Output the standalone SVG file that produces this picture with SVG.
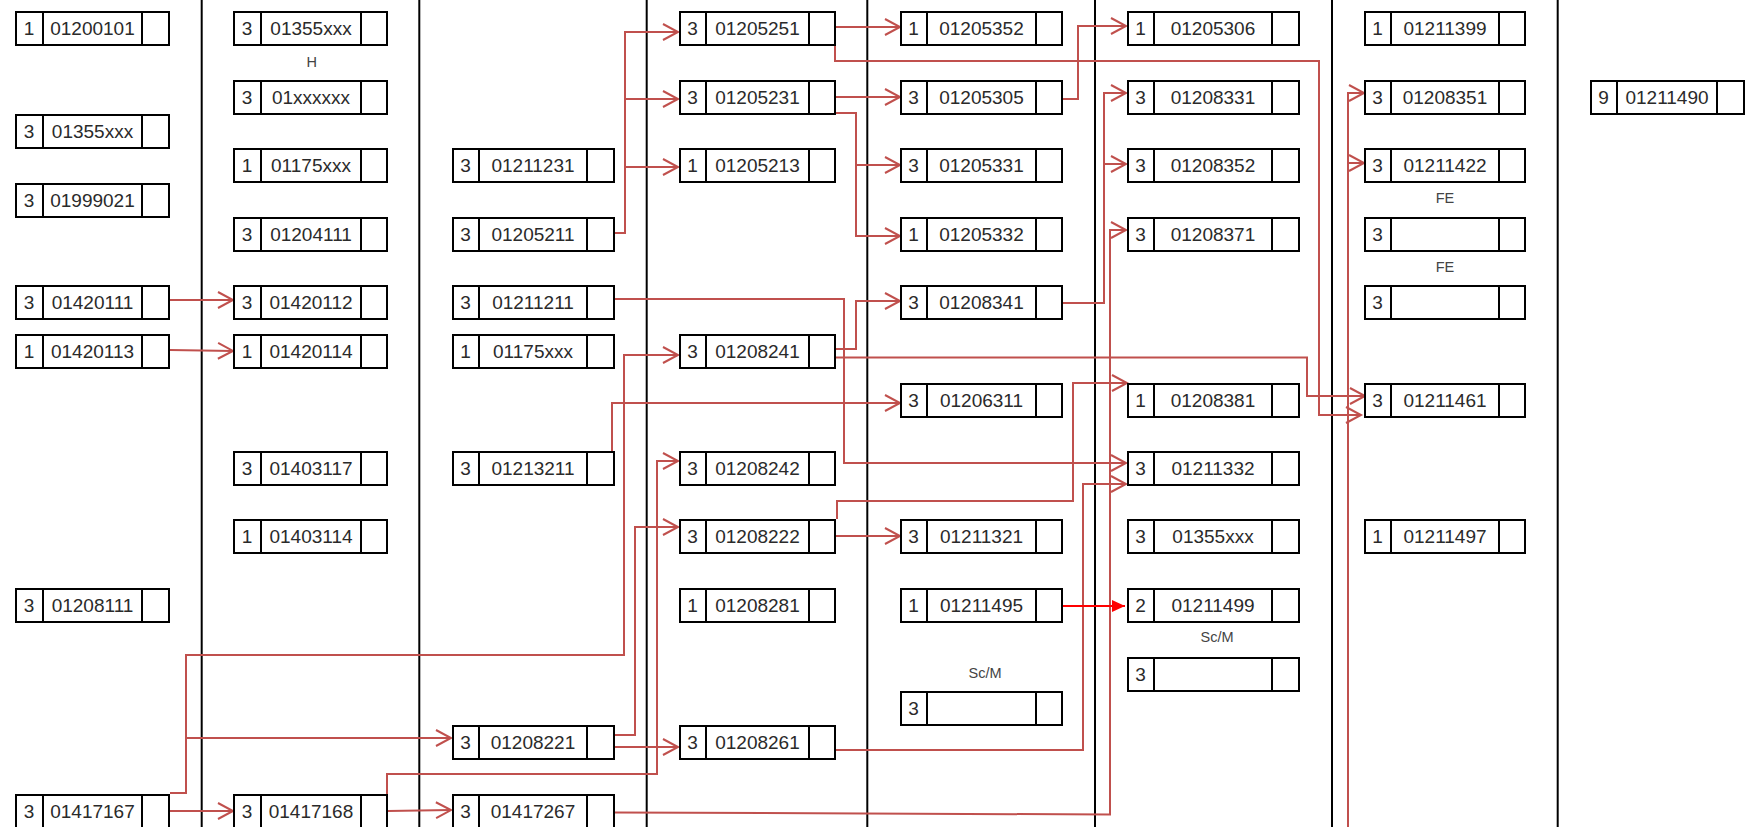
<svg xmlns="http://www.w3.org/2000/svg" xmlns:xlink="http://www.w3.org/1999/xlink" width="1752" height="827" viewBox="0 0 1752 827">
<style>
.fr rect{fill:#fff;stroke:#000;stroke-width:2}
.fr line{stroke:#000;stroke-width:2}
.n text{font-family:"Liberation Sans",Arial,sans-serif;font-size:19px;fill:#2a2a2a;text-anchor:middle}
.lbl text{font-family:"Liberation Sans",Arial,sans-serif;font-size:14.5px;fill:#444;text-anchor:middle}
.sep line{stroke:#000;stroke-width:2}
.c path{fill:none;stroke:#c0504d;stroke-width:2}
.c path.hot{stroke:#ff0000}
</style>
<defs>
<marker id="arr" markerUnits="userSpaceOnUse" viewBox="0 0 20 20" markerWidth="20" markerHeight="20" refX="16" refY="10" orient="auto"><path d="M1,2 L16,10 L1,18" fill="none" stroke="#c0504d" stroke-width="2"/></marker>
<marker id="tri" markerUnits="userSpaceOnUse" viewBox="0 0 14 12" markerWidth="14" markerHeight="12" refX="13" refY="6" orient="auto"><path d="M0,0 L13,6 L0,12 z" fill="#ff0000"/></marker>
<g id="f1" class="fr"><rect x="1" y="1" width="153" height="33"/><line x1="28" y1="1" x2="28" y2="34"/><line x1="127" y1="1" x2="127" y2="34"/></g>
<g id="f2" class="fr"><rect x="1" y="1" width="153" height="33"/><line x1="28" y1="1" x2="28" y2="34"/><line x1="128" y1="1" x2="128" y2="34"/></g>
<g id="f3" class="fr"><rect x="1" y="1" width="161" height="33"/><line x1="27" y1="1" x2="27" y2="34"/><line x1="135" y1="1" x2="135" y2="34"/></g>
<g id="f4" class="fr"><rect x="1" y="1" width="155" height="33"/><line x1="27" y1="1" x2="27" y2="34"/><line x1="130" y1="1" x2="130" y2="34"/></g>
<g id="f5" class="fr"><rect x="1" y="1" width="161" height="33"/><line x1="27" y1="1" x2="27" y2="34"/><line x1="136" y1="1" x2="136" y2="34"/></g>
<g id="f6" class="fr"><rect x="1" y="1" width="171" height="33"/><line x1="27" y1="1" x2="27" y2="34"/><line x1="145" y1="1" x2="145" y2="34"/></g>
<g id="f7" class="fr"><rect x="1" y="1" width="160" height="33"/><line x1="27" y1="1" x2="27" y2="34"/><line x1="135" y1="1" x2="135" y2="34"/></g>
<g id="f8" class="fr"><rect x="1" y="1" width="153" height="33"/><line x1="27" y1="1" x2="27" y2="34"/><line x1="127" y1="1" x2="127" y2="34"/></g>
</defs>
<rect width="1752" height="827" fill="#fff"/>
<g id="separators" class="sep">
<line x1="201.7" y1="0" x2="201.7" y2="827"/>
<line x1="419.3" y1="0" x2="419.3" y2="827"/>
<line x1="646.7" y1="0" x2="646.7" y2="827"/>
<line x1="867.3" y1="0" x2="867.3" y2="827"/>
<line x1="1095" y1="0" x2="1095" y2="827"/>
<line x1="1332" y1="0" x2="1332" y2="827"/>
<line x1="1557.7" y1="0" x2="1557.7" y2="827"/>
</g>
<g id="connectors" class="c">
<path marker-end="url(#arr)" d="M170,300 H233"/>
<path marker-end="url(#arr)" d="M170,350 L233,351"/>
<path marker-end="url(#arr)" d="M615,233 H625 V32 H678"/>
<path marker-end="url(#arr)" d="M625,99 H678"/>
<path marker-end="url(#arr)" d="M625,167 H678"/>
<path marker-end="url(#arr)" d="M836,27 H900"/>
<path marker-end="url(#arr)" d="M835,46 V61 H1319 V415 H1361"/>
<path marker-end="url(#arr)" d="M836,97 H900"/>
<path marker-end="url(#arr)" d="M836,113 H856 V236 H900"/>
<path marker-end="url(#arr)" d="M856,165 H900"/>
<path marker-end="url(#arr)" d="M1063,99 H1078 V26 H1126"/>
<path marker-end="url(#arr)" d="M1063,303 H1104 V93 H1126"/>
<path marker-end="url(#arr)" d="M1104,164 H1126"/>
<path marker-end="url(#arr)" d="M615,812.5 L1110,814.5 V230 H1126"/>
<path marker-end="url(#arr)" d="M615,299 H844 V463 H1126"/>
<path marker-end="url(#arr)" d="M836,349 H856 V301 H900"/>
<path marker-end="url(#arr)" d="M836,357.5 H1307 V396 H1365"/>
<path marker-end="url(#arr)" d="M612,451 V403 H900"/>
<path marker-end="url(#arr)" d="M170,793 H186 V655 H624 V355 H678"/>
<path marker-end="url(#arr)" d="M186,738 H451"/>
<path marker-end="url(#arr)" d="M170,811 H233"/>
<path marker-end="url(#arr)" d="M388,811 L451,810"/>
<path marker-end="url(#arr)" d="M387,794 V774 H657 V461 H678"/>
<path marker-end="url(#arr)" d="M615,735 H635 V527 H678"/>
<path marker-end="url(#arr)" d="M615,747 H678"/>
<path marker-end="url(#arr)" d="M836,750 H1083 V484 H1126"/>
<path marker-end="url(#arr)" d="M837,519 V501 H1073 V383 H1127"/>
<path marker-end="url(#arr)" d="M836,536 H900"/>
<path marker-end="url(#arr)" d="M1348,827 V93 H1364"/>
<path marker-end="url(#arr)" d="M1348,163 H1364"/>
<path class="hot" marker-end="url(#tri)" d="M1063,606 H1125"/>
</g>
<g id="labels" class="lbl">
<text x="311.7" y="66.5">H</text>
<text x="1445" y="203">FE</text>
<text x="1445" y="272">FE</text>
<text x="985" y="678">Sc/M</text>
<text x="1217" y="642">Sc/M</text>
</g>
<g id="nodes">
<g id="n-c1-01200101" class="n" transform="translate(15,11)"><use href="#f1"/><text x="14" y="23.5">1</text><text x="77.5" y="23.5">01200101</text></g>
<g id="n-c1-01355xxx" class="n" transform="translate(15,114)"><use href="#f1"/><text x="14" y="23.5">3</text><text x="77.5" y="23.5">01355xxx</text></g>
<g id="n-c1-01999021" class="n" transform="translate(15,183)"><use href="#f1"/><text x="14" y="23.5">3</text><text x="77.5" y="23.5">01999021</text></g>
<g id="n-c1-01420111" class="n" transform="translate(15,285)"><use href="#f1"/><text x="14" y="23.5">3</text><text x="77.5" y="23.5">01420111</text></g>
<g id="n-c1-01420113" class="n" transform="translate(15,334)"><use href="#f1"/><text x="14" y="23.5">1</text><text x="77.5" y="23.5">01420113</text></g>
<g id="n-c1-01208111" class="n" transform="translate(15,588)"><use href="#f1"/><text x="14" y="23.5">3</text><text x="77.5" y="23.5">01208111</text></g>
<g id="n-c1-01417167" class="n" transform="translate(15,794)"><use href="#f1"/><text x="14" y="23.5">3</text><text x="77.5" y="23.5">01417167</text></g>

<g id="n-c2-01355xxx" class="n" transform="translate(233,11)"><use href="#f2"/><text x="14" y="23.5">3</text><text x="78" y="23.5">01355xxx</text></g>
<g id="n-c2-01xxxxxx" class="n" transform="translate(233,80)"><use href="#f2"/><text x="14" y="23.5">3</text><text x="78" y="23.5">01xxxxxx</text></g>
<g id="n-c2-01175xxx" class="n" transform="translate(233,148)"><use href="#f2"/><text x="14" y="23.5">1</text><text x="78" y="23.5">01175xxx</text></g>
<g id="n-c2-01204111" class="n" transform="translate(233,217)"><use href="#f2"/><text x="14" y="23.5">3</text><text x="78" y="23.5">01204111</text></g>
<g id="n-c2-01420112" class="n" transform="translate(233,285)"><use href="#f2"/><text x="14" y="23.5">3</text><text x="78" y="23.5">01420112</text></g>
<g id="n-c2-01420114" class="n" transform="translate(233,334)"><use href="#f2"/><text x="14" y="23.5">1</text><text x="78" y="23.5">01420114</text></g>
<g id="n-c2-01403117" class="n" transform="translate(233,451)"><use href="#f2"/><text x="14" y="23.5">3</text><text x="78" y="23.5">01403117</text></g>
<g id="n-c2-01403114" class="n" transform="translate(233,519)"><use href="#f2"/><text x="14" y="23.5">1</text><text x="78" y="23.5">01403114</text></g>
<g id="n-c2-01417168" class="n" transform="translate(233,794)"><use href="#f2"/><text x="14" y="23.5">3</text><text x="78" y="23.5">01417168</text></g>

<g id="n-c3-01211231" class="n" transform="translate(452,148)"><use href="#f3"/><text x="13.5" y="23.5">3</text><text x="81" y="23.5">01211231</text></g>
<g id="n-c3-01205211" class="n" transform="translate(452,217)"><use href="#f3"/><text x="13.5" y="23.5">3</text><text x="81" y="23.5">01205211</text></g>
<g id="n-c3-01211211" class="n" transform="translate(452,285)"><use href="#f3"/><text x="13.5" y="23.5">3</text><text x="81" y="23.5">01211211</text></g>
<g id="n-c3-01175xxx" class="n" transform="translate(452,334)"><use href="#f3"/><text x="13.5" y="23.5">1</text><text x="81" y="23.5">01175xxx</text></g>
<g id="n-c3-01213211" class="n" transform="translate(452,451)"><use href="#f3"/><text x="13.5" y="23.5">3</text><text x="81" y="23.5">01213211</text></g>
<g id="n-c3-01208221" class="n" transform="translate(452,725)"><use href="#f3"/><text x="13.5" y="23.5">3</text><text x="81" y="23.5">01208221</text></g>
<g id="n-c3-01417267" class="n" transform="translate(452,794)"><use href="#f3"/><text x="13.5" y="23.5">3</text><text x="81" y="23.5">01417267</text></g>

<g id="n-c4-01205251" class="n" transform="translate(679,11)"><use href="#f4"/><text x="13.5" y="23.5">3</text><text x="78.5" y="23.5">01205251</text></g>
<g id="n-c4-01205231" class="n" transform="translate(679,80)"><use href="#f4"/><text x="13.5" y="23.5">3</text><text x="78.5" y="23.5">01205231</text></g>
<g id="n-c4-01205213" class="n" transform="translate(679,148)"><use href="#f4"/><text x="13.5" y="23.5">1</text><text x="78.5" y="23.5">01205213</text></g>
<g id="n-c4-01208241" class="n" transform="translate(679,334)"><use href="#f4"/><text x="13.5" y="23.5">3</text><text x="78.5" y="23.5">01208241</text></g>
<g id="n-c4-01208242" class="n" transform="translate(679,451)"><use href="#f4"/><text x="13.5" y="23.5">3</text><text x="78.5" y="23.5">01208242</text></g>
<g id="n-c4-01208222" class="n" transform="translate(679,519)"><use href="#f4"/><text x="13.5" y="23.5">3</text><text x="78.5" y="23.5">01208222</text></g>
<g id="n-c4-01208281" class="n" transform="translate(679,588)"><use href="#f4"/><text x="13.5" y="23.5">1</text><text x="78.5" y="23.5">01208281</text></g>
<g id="n-c4-01208261" class="n" transform="translate(679,725)"><use href="#f4"/><text x="13.5" y="23.5">3</text><text x="78.5" y="23.5">01208261</text></g>

<g id="n-c5-01205352" class="n" transform="translate(900,11)"><use href="#f5"/><text x="13.5" y="23.5">1</text><text x="81.5" y="23.5">01205352</text></g>
<g id="n-c5-01205305" class="n" transform="translate(900,80)"><use href="#f5"/><text x="13.5" y="23.5">3</text><text x="81.5" y="23.5">01205305</text></g>
<g id="n-c5-01205331" class="n" transform="translate(900,148)"><use href="#f5"/><text x="13.5" y="23.5">3</text><text x="81.5" y="23.5">01205331</text></g>
<g id="n-c5-01205332" class="n" transform="translate(900,217)"><use href="#f5"/><text x="13.5" y="23.5">1</text><text x="81.5" y="23.5">01205332</text></g>
<g id="n-c5-01208341" class="n" transform="translate(900,285)"><use href="#f5"/><text x="13.5" y="23.5">3</text><text x="81.5" y="23.5">01208341</text></g>
<g id="n-c5-01206311" class="n" transform="translate(900,383)"><use href="#f5"/><text x="13.5" y="23.5">3</text><text x="81.5" y="23.5">01206311</text></g>
<g id="n-c5-01211321" class="n" transform="translate(900,519)"><use href="#f5"/><text x="13.5" y="23.5">3</text><text x="81.5" y="23.5">01211321</text></g>
<g id="n-c5-01211495" class="n" transform="translate(900,588)"><use href="#f5"/><text x="13.5" y="23.5">1</text><text x="81.5" y="23.5">01211495</text></g>
<g id="n-c5-empty" class="n" transform="translate(900,691)"><use href="#f5"/><text x="13.5" y="23.5">3</text></g>

<g id="n-c6-01205306" class="n" transform="translate(1127,11)"><use href="#f6"/><text x="13.5" y="23.5">1</text><text x="86" y="23.5">01205306</text></g>
<g id="n-c6-01208331" class="n" transform="translate(1127,80)"><use href="#f6"/><text x="13.5" y="23.5">3</text><text x="86" y="23.5">01208331</text></g>
<g id="n-c6-01208352" class="n" transform="translate(1127,148)"><use href="#f6"/><text x="13.5" y="23.5">3</text><text x="86" y="23.5">01208352</text></g>
<g id="n-c6-01208371" class="n" transform="translate(1127,217)"><use href="#f6"/><text x="13.5" y="23.5">3</text><text x="86" y="23.5">01208371</text></g>
<g id="n-c6-01208381" class="n" transform="translate(1127,383)"><use href="#f6"/><text x="13.5" y="23.5">1</text><text x="86" y="23.5">01208381</text></g>
<g id="n-c6-01211332" class="n" transform="translate(1127,451)"><use href="#f6"/><text x="13.5" y="23.5">3</text><text x="86" y="23.5">01211332</text></g>
<g id="n-c6-01355xxx" class="n" transform="translate(1127,519)"><use href="#f6"/><text x="13.5" y="23.5">3</text><text x="86" y="23.5">01355xxx</text></g>
<g id="n-c6-01211499" class="n" transform="translate(1127,588)"><use href="#f6"/><text x="13.5" y="23.5">2</text><text x="86" y="23.5">01211499</text></g>
<g id="n-c6-empty" class="n" transform="translate(1127,657)"><use href="#f6"/><text x="13.5" y="23.5">3</text></g>

<g id="n-c7-01211399" class="n" transform="translate(1364,11)"><use href="#f7"/><text x="13.5" y="23.5">1</text><text x="81" y="23.5">01211399</text></g>
<g id="n-c7-01208351" class="n" transform="translate(1364,80)"><use href="#f7"/><text x="13.5" y="23.5">3</text><text x="81" y="23.5">01208351</text></g>
<g id="n-c7-01211422" class="n" transform="translate(1364,148)"><use href="#f7"/><text x="13.5" y="23.5">3</text><text x="81" y="23.5">01211422</text></g>
<g id="n-c7-empty1" class="n" transform="translate(1364,217)"><use href="#f7"/><text x="13.5" y="23.5">3</text></g>
<g id="n-c7-empty2" class="n" transform="translate(1364,285)"><use href="#f7"/><text x="13.5" y="23.5">3</text></g>
<g id="n-c7-01211461" class="n" transform="translate(1364,383)"><use href="#f7"/><text x="13.5" y="23.5">3</text><text x="81" y="23.5">01211461</text></g>
<g id="n-c7-01211497" class="n" transform="translate(1364,519)"><use href="#f7"/><text x="13.5" y="23.5">1</text><text x="81" y="23.5">01211497</text></g>

<g id="n-c8-01211490" class="n" transform="translate(1590,80)"><use href="#f8"/><text x="13.5" y="23.5">9</text><text x="77" y="23.5">01211490</text></g>
</g>
</svg>
